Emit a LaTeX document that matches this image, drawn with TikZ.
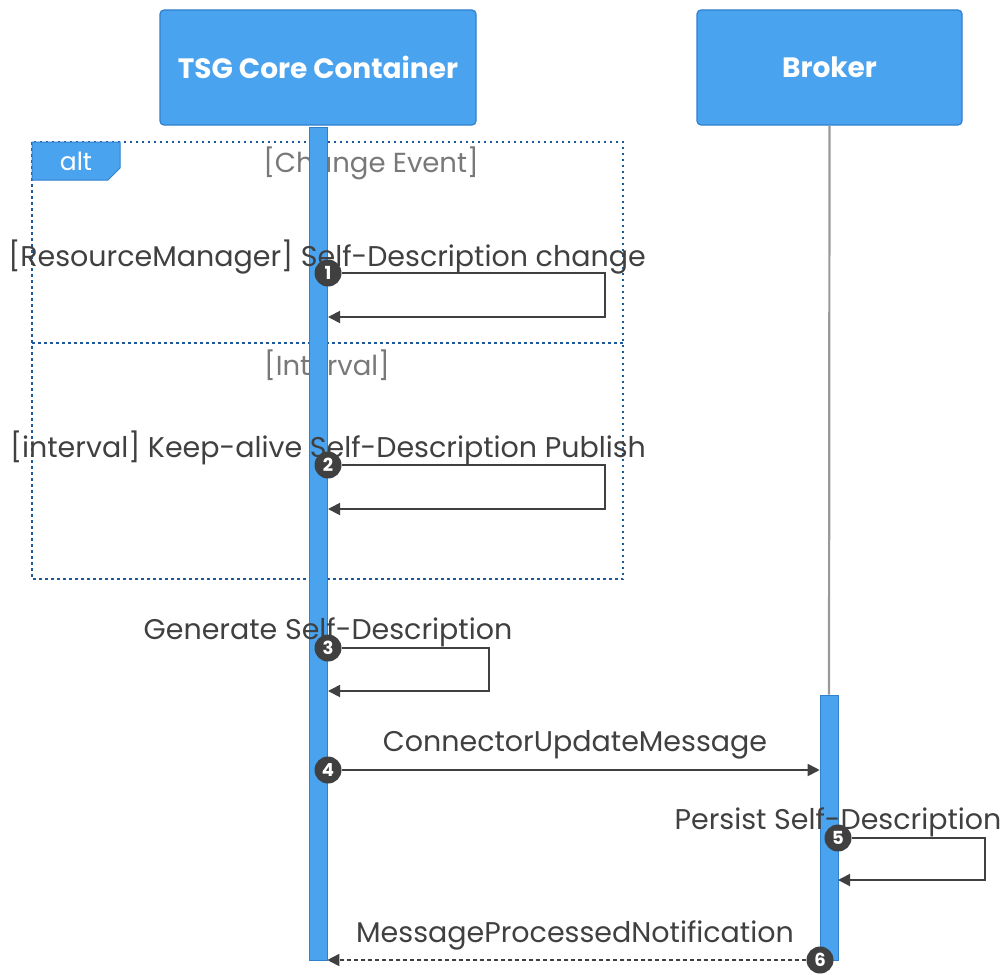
\documentclass[tikz,border=0pt]{standalone}
\usepackage{fontspec}
\setmainfont{Poppins}
\usetikzlibrary{arrows.meta,positioning,calc}
\definecolor{tsgblue}{RGB}{74,163,238}
\definecolor{tsgedge}{RGB}{48,128,205}
\definecolor{frameblue}{RGB}{30,90,155}
\definecolor{msggray}{RGB}{64,64,64}
\definecolor{guardgray}{RGB}{120,120,120}
\newcommand{\tsghead}{\fontsize{28}{32}\selectfont\bfseries}
\newcommand{\tsglabel}{\fontsize{28.5}{32}\selectfont}
\newcommand{\tsgguard}{\fontsize{27.5}{32}\selectfont}
\newcommand{\tsgnum}{\fontsize{18}{20}\selectfont\bfseries}
\newcommand{\tsgalt}{\fontsize{25}{28}\selectfont}
\pgfdeclarelayer{front}
\pgfsetlayers{main,front}

\begin{document}
\begin{tikzpicture}[x=1pt,y=-1pt,
participant/.style={draw=tsgedge,fill=tsgblue,rounded corners=4pt,line width=1.2pt,text=white,font=\tsghead},
actbar/.style={draw=tsgedge,fill=tsgblue,line width=0.6pt,inner sep=0pt,minimum width=18pt},
altframe/.style={draw=frameblue,line width=2pt,dash pattern=on 2.5pt off 3.5pt},
msg/.style={draw=msggray,line width=1.8pt,-{Triangle[length=12pt,width=12pt]}},
reply/.style={msg,dash pattern=on 4pt off 3pt},
stepnum/.style={circle,fill=msggray,text=white,minimum size=27pt,inner sep=0pt,font=\tsgnum},
msglabel/.style={text=msggray,font=\tsglabel,inner sep=0pt},
guard/.style={text=guardgray,font=\tsgguard,inner sep=0pt}]
\useasboundingbox (0,0) rectangle (1008,974);

\node[participant,minimum width=316pt,minimum height=115pt] (tsg) at (318,67.5) {TSG Core Container};
\node[participant,minimum width=265pt,minimum height=115pt] (broker) at (829.5,67.5) {Broker};

% alt frame
\draw[altframe] (32,142) rectangle (623,579);
\draw[altframe] (32,343) -- (623,343);
\draw[fill=tsgblue,draw=tsgedge,line width=1pt] (32,142) -- (120,142) -- (120,168) -- (108,180) -- (32,180) -- cycle;
\node[text=white,font=\tsgalt] (alttag) at (76,161) {alt};
\node[guard] (g1) at (371,163) {[Change Event]};
\node[guard] (g2) at (327,365) {[Interval]};

% lifelines
\node[actbar,minimum height=833pt] (tsgbar) at (318,543.5) {};
\node[actbar,minimum height=265pt] (brokerbar) at (829,827.5) {};
\draw[black!40,line width=2.2pt] (broker.south) -- (brokerbar.north);

\begin{pgfonlayer}{front}
\node[stepnum] (n1) at (328,273) {1};
\node[stepnum] (n2) at (328,465) {2};
\node[stepnum] (n3) at (328,648) {3};
\node[stepnum] (n4) at (328,770) {4};
\node[stepnum] (n5) at (838,838) {5};
\node[stepnum] (n6) at (820,960) {6};
\end{pgfonlayer}

\node[msglabel] (m1) at (327,257) {[ResourceManager] Self-Description change};
\coordinate (r1) at (328,317);
\draw[msg] (n1.east) -- ++(263,0) |- (r1);

\node[msglabel] (m2) at (328,448) {[interval] Keep-alive Self-Description Publish};
\coordinate (r2) at (328,509);
\draw[msg] (n2.east) -- ++(263,0) |- (r2);

\node[msglabel] (m3) at (328,632) {Generate Self-Description};
\coordinate (r3) at (328,691);
\draw[msg] (n3.east) -- ++(147,0) |- (r3);

\node[msglabel] (m4) at (575,745) {ConnectorUpdateMessage};
\draw[msg] (n4.east) -- (brokerbar.west |- n4);

\node[msglabel] (m5) at (838,822) {Persist Self-Description};
\coordinate (r5) at (838,880);
\draw[msg] (n5.east) -- ++(133,0) |- (r5);

\node[msglabel] (m6) at (575,935) {MessageProcessedNotification};
\draw[reply] (n6.west) -- (tsgbar.east |- n6);
\end{tikzpicture}
\end{document}
